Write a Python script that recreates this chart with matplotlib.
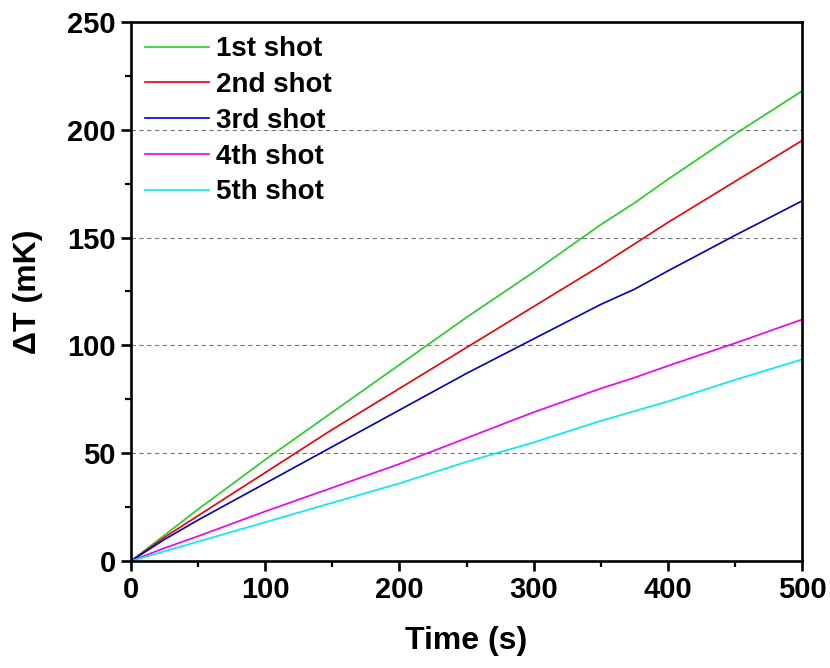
import matplotlib

matplotlib.use("Agg")
import matplotlib.pyplot as plt
from matplotlib.ticker import MultipleLocator

# time axis (s) and temperature rise (mK)
time_s = [0, 25, 50, 100, 150, 200, 250, 300, 350, 375, 400, 450, 500]
shot1 = [0, 12, 24, 47, 69, 91, 113, 134, 156, 166, 177, 198, 218]
shot2 = [0, 11, 21, 41, 61, 80, 99, 118, 137, 147, 157, 176, 195]
shot3 = [0, 10, 19, 36, 53, 70, 87, 103, 119, 126, 134.5, 151, 167]
shot4 = [0, 6, 11.5, 23, 34, 45, 57, 69, 80, 85, 90.5, 101, 112]
shot5 = [0, 4.5, 9, 18, 27, 36, 46, 55, 65, 69.5, 74, 84, 93.5]

labels = ["1st shot", "2nd shot", "3rd shot", "4th shot", "5th shot"]
colors = ["#22d022", "#ee0000", "#0000cc", "#ee00ee", "#00eeee"]

plt.rcParams["font.family"] = ["Liberation Sans", "DejaVu Sans"]
plt.rcParams["font.weight"] = "bold"

fig = plt.figure(figsize=(8.3, 6.68), dpi=100)
ax = fig.add_axes([0.1578, 0.1602, 0.8085, 0.8069])

for y, lab, c in zip([shot1, shot2, shot3, shot4, shot5], labels, colors):
    ax.plot(time_s, y, color=c, lw=1.2, label=lab)

ax.set_xlim(0, 500)
ax.set_ylim(0, 250)
ax.xaxis.set_major_locator(MultipleLocator(100))
ax.xaxis.set_minor_locator(MultipleLocator(50))
ax.yaxis.set_major_locator(MultipleLocator(50))
ax.yaxis.set_minor_locator(MultipleLocator(25))

ax.grid(axis="y", which="major", ls=(0, (4, 3)), color="#777777", lw=0.8)
ax.set_axisbelow(True)

for s in ax.spines.values():
    s.set_linewidth(1.9)
ax.tick_params(which="major", direction="out", length=7, width=1.9,
               labelsize=21, pad=4)
ax.tick_params(which="minor", direction="out", length=4.5, width=1.6)
for t in ax.get_xticklabels() + ax.get_yticklabels():
    t.set_fontweight("bold")

ax.set_xlabel("Time (s)", fontsize=23, fontweight="bold", labelpad=16)
ax.set_ylabel("ΔT (mK)", fontsize=23, fontweight="bold", labelpad=17)

ax.legend(loc="upper left", frameon=False, handlelength=2.3,
          handletextpad=0.25, labelspacing=0.35, borderaxespad=0.12,
          prop={"weight": "bold", "size": 20})

fig.savefig("out.png", dpi=100)
